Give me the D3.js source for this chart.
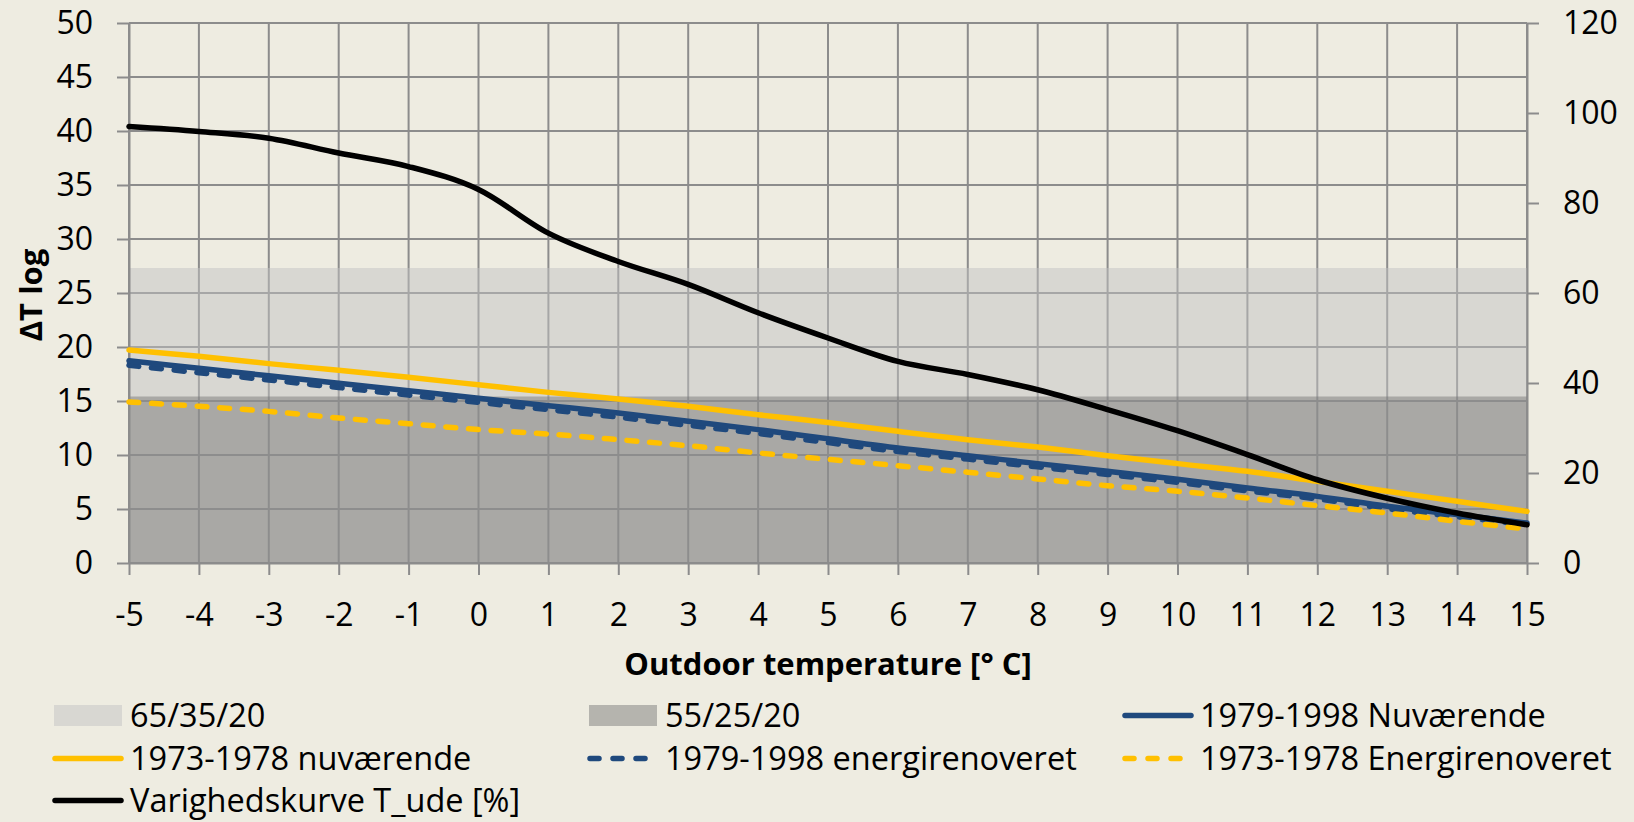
<!DOCTYPE html>
<html>
<head>
<meta charset="utf-8">
<script src="https://cdn.jsdelivr.net/npm/d3@7"></script>
<style>
  html, body { margin: 0; padding: 0; background: #eeece1; }
  svg { display: block; }
  text { font-family: "Open Sans", "Noto Sans", sans-serif; fill: #000; }
</style>
</head>
<body>
<svg id="chart" width="1634" height="822"></svg>
<script>
// Outdoor temperature categories [°C]
const temps = [-5, -4, -3, -2, -1, 0, 1, 2, 3, 4, 5, 6, 7, 8, 9, 10, 11, 12, 13, 14, 15];

// Axis tick values
const leftTicks = [0, 5, 10, 15, 20, 25, 30, 35, 40, 45, 50];
const rightTicks = [0, 20, 40, 60, 80, 100, 120];

// Logarithmic mean temperature difference of the two supply/return systems
const bandNames = ["65/35/20", "55/25/20"];
const bandLevels = [27.31, 15.42];

// ΔT log per building period (left axis)
const nuv1979_1998 = [18.73, 18.03, 17.34, 16.64, 15.95, 15.25, 14.57, 13.89, 13.12, 12.35, 11.50,
                      10.65, 9.94, 9.20, 8.49, 7.75, 6.94, 6.17, 5.25, 4.48, 3.70];
const nuv1973_1978 = [19.72, 19.14, 18.46, 17.84, 17.19, 16.50, 15.80, 15.19, 14.51, 13.73, 13.00,
                      12.19, 11.42, 10.74, 9.94, 9.20, 8.49, 7.56, 6.64, 5.71, 4.78];
const ren1979_1998 = [18.30, 17.62, 16.95, 16.25, 15.55, 14.87, 14.20, 13.50, 12.75, 12.00, 11.15,
                      10.33, 9.62, 8.90, 8.20, 7.47, 6.68, 5.93, 5.03, 4.28, 3.55];
const ren1973_1978 = [14.91, 14.51, 14.04, 13.43, 12.90, 12.35, 11.94, 11.42, 10.86, 10.19, 9.60,
                      9.01, 8.40, 7.78, 7.16, 6.64, 6.02, 5.31, 4.63, 3.86, 3.15];

// Duration curve of outdoor temperature [%] (right axis)
const varighed = [97.0, 95.9, 94.4, 91.1, 88.1, 83.0, 73.3, 67.0, 61.9, 55.6, 50.0,
                  44.8, 41.9, 38.5, 34.1, 29.4, 24.1, 18.5, 14.4, 11.1, 8.5];

const COLORS = { navy: "#1f497d", gold: "#ffc000", black: "#000000", grid: "#8c8c8c" };
const DASH = "10,12.7";

const series = [
  { name: "1979-1998 energirenoveret", values: ren1979_1998, color: COLORS.navy, dash: DASH, axis: "left" },
  { name: "1979-1998 Nuværende",       values: nuv1979_1998, color: COLORS.navy, dash: null, axis: "left" },
  { name: "1973-1978 nuværende",       values: nuv1973_1978, color: COLORS.gold, dash: null, axis: "left" },
  { name: "1973-1978 Energirenoveret", values: ren1973_1978, color: COLORS.gold, dash: DASH, axis: "left" },
  { name: "Varighedskurve T_ude [%]",  values: varighed,     color: COLORS.black, dash: null, axis: "right" }
];

const bands = [
  { name: bandNames[0], level: bandLevels[0], fill: "#c1c1c2", opacity: 0.49 },
  { name: bandNames[1], level: bandLevels[1], fill: "#717171", opacity: 0.455 }
];

const svg = d3.select("#chart");
const plot = { left: 129, right: 1527, top: 23, bottom: 563 };

const x = d3.scaleLinear().domain([-5, 15]).range([plot.left, plot.right]);
const yL = d3.scaleLinear().domain([0, 50]).range([plot.bottom, plot.top]);
const yR = d3.scaleLinear().domain([0, 120]).range([plot.bottom, plot.top]);

// Gridlines
const grid = svg.append("g").attr("stroke", COLORS.grid).attr("stroke-width", 2);
grid.selectAll("line.h").data(leftTicks).join("line")
  .attr("x1", plot.left).attr("x2", plot.right)
  .attr("y1", d => yL(d)).attr("y2", d => yL(d));
grid.selectAll("line.v").data(temps).join("line")
  .attr("x1", d => x(d)).attr("x2", d => x(d))
  .attr("y1", plot.top).attr("y2", plot.bottom);

// Bands (translucent areas from zero up to the level)
const bandArea = lvl => d3.area()
  .x(d => x(d)).y0(yL(0)).y1(() => yL(lvl))(temps);
svg.append("g").selectAll("path").data(bands).join("path")
  .attr("d", d => bandArea(d.level))
  .attr("fill", d => d.fill)
  .attr("fill-opacity", d => d.opacity);

// Axes
const fmt = d => String(d);
const axL = svg.append("g").attr("transform", `translate(${plot.left},0)`)
  .call(d3.axisLeft(yL).tickValues(leftTicks).tickSize(12).tickSizeOuter(0).tickFormat(fmt));
const axR = svg.append("g").attr("transform", `translate(${plot.right},0)`)
  .call(d3.axisRight(yR).tickValues(rightTicks).tickSize(12).tickSizeOuter(0).tickFormat(fmt));
const axB = svg.append("g").attr("transform", `translate(0,${plot.bottom})`)
  .call(d3.axisBottom(x).tickValues(temps).tickSize(12).tickSizeOuter(0).tickFormat(fmt));

[axL, axR, axB].forEach(g => {
  g.select(".domain").attr("stroke", COLORS.grid).attr("stroke-width", 2);
  g.selectAll(".tick line").attr("stroke", COLORS.grid).attr("stroke-width", 2);
  g.selectAll(".tick text").attr("font-size", 32).attr("font-family", null).attr("fill", "#000");
});
axL.selectAll(".tick text").attr("x", -36);
axR.selectAll(".tick text").attr("x", 36);
axB.selectAll(".tick text").attr("y", 63).attr("dy", "0");

// Series lines
const lineFor = s => d3.line()
  .x((d, i) => x(temps[i]))
  .y(d => (s.axis === "left" ? yL(d) : yR(d)))
  .curve(d3.curveCardinal.tension(0));

svg.append("g").selectAll("path").data(series).join("path")
  .attr("d", s => lineFor(s)(s.values))
  .attr("fill", "none")
  .attr("stroke", s => s.color)
  .attr("stroke-width", 5.5)
  .attr("stroke-linecap", "round")
  .attr("stroke-linejoin", "round")
  .attr("stroke-dasharray", s => s.dash);

// Axis titles
svg.append("text")
  .attr("x", (plot.left + plot.right) / 2).attr("y", 675)
  .attr("text-anchor", "middle").attr("font-size", 31).attr("font-weight", "bold")
  .text("Outdoor temperature [° C]");
svg.append("text")
  .attr("transform", "translate(42,295) rotate(-90)")
  .attr("text-anchor", "middle").attr("font-size", 31).attr("font-weight", "bold")
  .text("ΔT log");

// Legend
const legendItems = [
  { label: bands[0].name, kind: "rect", band: bands[0] },
  { label: bands[1].name, kind: "rect", band: bands[1] },
  { label: series[1].name, kind: "line", s: series[1] },
  { label: series[2].name, kind: "line", s: series[2] },
  { label: series[0].name, kind: "line", s: series[0] },
  { label: series[3].name, kind: "line", s: series[3] },
  { label: series[4].name, kind: "line", s: series[4] }
];
const colX = [53, 588, 1123];
const rowBase = [727, 770, 812];

const leg = svg.append("g");
legendItems.forEach((it, i) => {
  const cx = colX[i % 3], by = rowBase[Math.floor(i / 3)], cy = by - 11.5;
  const g = leg.append("g");
  if (it.kind === "rect") {
    g.append("rect").attr("x", cx + 1).attr("y", cy - 10.5).attr("width", 68).attr("height", 21)
      .attr("fill", it.band.fill).attr("fill-opacity", it.band.opacity);
  } else {
    g.append("line").attr("x1", cx + 2).attr("x2", cx + 68).attr("y1", cy).attr("y2", cy)
      .attr("stroke", it.s.color).attr("stroke-width", 5.5).attr("stroke-linecap", "round")
      .attr("stroke-dasharray", it.s.dash ? "9,14" : null);
  }
  g.append("text").attr("x", cx + 77).attr("y", by).attr("font-size", 32.5).text(it.label);
});
</script>
</body>
</html>
